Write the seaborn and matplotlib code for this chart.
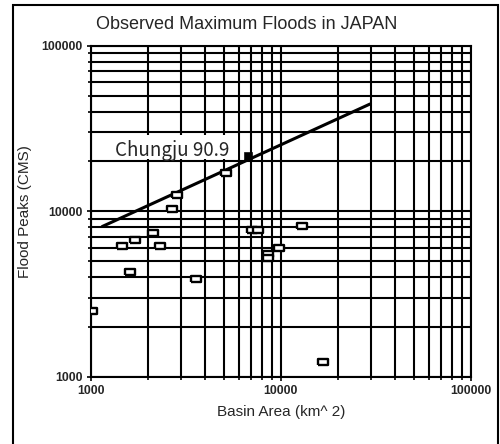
import matplotlib
matplotlib.use("Agg")
import matplotlib.pyplot as plt
import matplotlib.patches as mpatches
from matplotlib.ticker import LogLocator, FixedLocator, FixedFormatter, NullFormatter
import seaborn as sns
import pandas as pd

# Observed maximum floods (basin area km^2, peak discharge CMS)
area = [1016, 1463, 1611, 1711, 2127, 2316, 2680, 2845, 3580, 5155,
        7060, 7600, 8610, 8610, 9840, 13000, 16700]
peak = [2480, 6190, 4320, 6740, 7430, 6120, 10240, 12440, 3920, 16900,
        7740, 7740, 5550, 5250, 5960, 8160, 1220]

# Envelope curve
env_area = [1150, 29500]
env_peak = [8080, 44400]

# Chungju dam design flood
chungju_area = [6760]
chungju_peak = [21600]
chungju_label = "Chungju 90.9"

major_ticks = [1000, 10000, 100000]
major_labels = ["1000", "10000", "100000"]

sns.set_theme(style="white")
plt.rcParams["font.family"] = ["Liberation Sans", "DejaVu Sans"]

fig = plt.figure(figsize=(5.0, 4.44), dpi=100)
ax = fig.add_axes([0.1814, 0.1516, 0.760, 0.7455])
ax.set_xscale("log")
ax.set_yscale("log")
ax.set_xlim(1000, 100000)
ax.set_ylim(1000, 100000)

# grid: every decade and every sub-decade line in solid black
for axis in (ax.xaxis, ax.yaxis):
    axis.set_major_locator(FixedLocator(major_ticks))
    axis.set_major_formatter(FixedFormatter(major_labels))
    axis.set_minor_locator(LogLocator(base=10, subs=range(2, 10)))
    axis.set_minor_formatter(NullFormatter())
ax.grid(True, which="both", color="black", linewidth=1.5)
ax.set_axisbelow(True)
for s in ax.spines.values():
    s.set_color("black")
    s.set_linewidth(1.5)
ax.tick_params(which="both", direction="inout", color="black", width=1.2,
               left=True, bottom=True)
ax.tick_params(which="major", length=6, labelsize=8.8, pad=3)
ax.tick_params(which="minor", length=4)
for lbl in ax.get_xticklabels() + ax.get_yticklabels():
    lbl.set_fontweight("bold")

df = pd.DataFrame({"area": area, "peak": peak})
env = pd.DataFrame({"area": env_area, "peak": env_peak})
ch = pd.DataFrame({"area": chungju_area, "peak": chungju_peak})

box = [(-1.6, -1.0), (1.6, -1.0), (1.6, 1.0), (-1.6, 1.0), (-1.6, -1.0)]
sns.lineplot(data=env, x="area", y="peak", color="black", linewidth=2.2, ax=ax, zorder=3)
sns.scatterplot(data=df, x="area", y="peak", marker=box, s=42, facecolor="white",
                edgecolor="black", linewidth=1.7, ax=ax, zorder=4)
sns.scatterplot(data=ch, x="area", y="peak", marker="s", s=32, color="black",
                edgecolor="black", ax=ax, zorder=5)

# white panel behind the annotation, between the 20000 and 30000 grid lines
ax.add_patch(mpatches.Rectangle((1290, 20600), 4650, 8100, facecolor="white",
                                edgecolor="none", zorder=2.5))
ax.text(2700, 23300, chungju_label, ha="center", va="center", fontsize=13.5,
        fontweight="medium", family=["Noto Sans CJK KR", "DejaVu Sans"], zorder=6)

ax.set_xlabel("Basin Area (km^ 2)", fontsize=11, va="center")
ax.set_ylabel("Flood Peaks (CMS)", fontsize=11, va="center")
ax.xaxis.set_label_coords(0.5, -0.106)
ax.yaxis.set_label_coords(-0.173, 0.5)

fig.text(0.494, 0.944, "Observed Maximum Floods in JAPAN", ha="center", va="center",
         fontsize=13)

# outer frame
fig.patches.append(mpatches.Rectangle((0.026, -0.01), 0.970, 0.999,
                                      transform=fig.transFigure, fill=False,
                                      edgecolor="black", linewidth=1.5))

fig.savefig("out.png", dpi=100, facecolor="white")
